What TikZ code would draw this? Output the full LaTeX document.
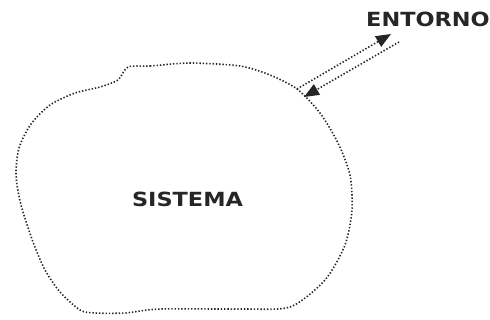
\documentclass[tikz,border=0pt]{standalone}
\usepackage{fontspec}
\newfontfamily\lblfont{DejaVu Sans}
\usetikzlibrary{arrows.meta}
\tikzset{
  dots/.style={draw=black!85, line width=1.6pt, dash pattern=on 1.4pt off 1.9pt},
  lbl/.style={font=\lblfont\bfseries\fontsize{19.5}{19.5}\selectfont, text=black!85, inner sep=0pt, xscale=1.15},
  flow/.style={dots, -{Triangle[length=15pt,width=12pt]}}
}
\begin{document}
\begin{tikzpicture}[x=1pt,y=-1pt]
\useasboundingbox (0,0) rectangle (490,320);
% system boundary
\draw[dots] plot[smooth cycle, tension=0.45] coordinates {
  (128,67) (150,66) (190,63) (240,66) (270,75) (297,89)
  (320,113) (338,143) (350,175) (352,210) (345,245) (325,280) (290,307)
  (240,309) (160,309) (125,313) (95,313) (80,310)
  (60,292) (45,270) (33,242) (21,205) (16,175) (19,148) (31,124) (50,105) (75,93) (100,87) (118,80)
};
\node[lbl] (sistema) at (187.5,199) {SISTEMA};
\node[lbl] (entorno) at (428,19) {ENTORNO};
\coordinate (outA) at (297,89);
\coordinate (outB) at (391,34);
\coordinate (inA) at (399,42);
\coordinate (inB) at (304,97);
\draw[flow] (outA) -- (outB);
\draw[flow] (inA) -- (inB);
\end{tikzpicture}
\end{document}
